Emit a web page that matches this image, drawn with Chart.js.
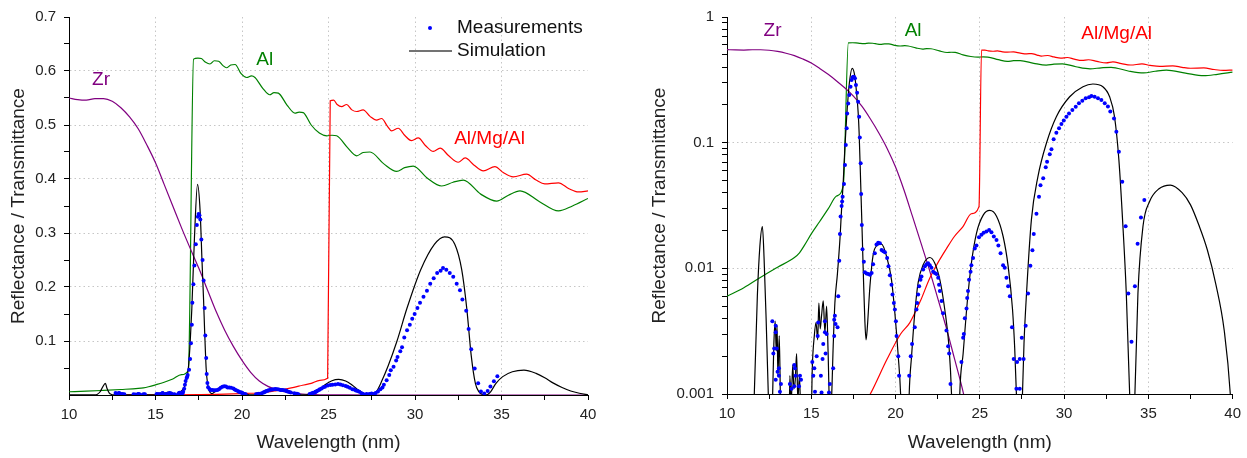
<!DOCTYPE html>
<html>
<head>
<meta charset="utf-8">
<script src="https://cdn.jsdelivr.net/npm/chart.js@4.4.1/dist/chart.umd.min.js"></script>
<style>
  html, body { margin: 0; padding: 0; background: #fff; }
  #wrap { position: relative; width: 1247px; height: 458px; }
  #wrap canvas { position: absolute; top: 0; }
</style>
</head>
<body>
<div id="wrap">
  <canvas id="linChart" width="623" height="458" style="left:0"></canvas>
  <canvas id="logChart" width="623" height="458" style="left:624px"></canvas>
</div>
<script>
/* ---- data (wavelength nm, reflectance / transmittance) ---- */

const zrData = [
  [10,0.550],[10.5,0.547],[11,0.546],[11.5,0.549],[12,0.549],[12.5,0.544],[13,0.532],[13.5,0.515],
  [14,0.493],[14.5,0.463],[15,0.43],[15.5,0.39],[16,0.35],[16.5,0.31],[17,0.272],[17.5,0.235],
  [18,0.195],[18.5,0.155],[19,0.12],[19.5,0.09],[20,0.064],[20.5,0.042],[21,0.026],[21.5,0.016],
  [22,0.0098],[22.5,0.0058],[23,0.0034],[23.5,0.0019],[24,0.00105],[24.5,0.0005],[25,0.0002],
  [26,0.00005],[28,0.00001],[40,0.00001]
];

const alData = [
  [10,0.006],[11,0.007],[12,0.0085],[13,0.0102],[14,0.0122],[14.3,0.0133],[14.6,0.0153],[15,0.0188],
  [15.5,0.0236],[16,0.0297],[16.5,0.0376],[16.9,0.046],[17.2,0.622],[17.45,0.624],[17.65,0.623],
  [17.9,0.616],[18.15,0.613],[18.4,0.619],[18.65,0.618],[18.9,0.61],[19.1,0.606],[19.35,0.611],
  [19.6,0.612],[19.95,0.595],[20.27,0.588],[20.55,0.591],[20.75,0.588],[21.2,0.568],[21.6,0.556],
  [21.85,0.56],[22.1,0.559],[22.6,0.537],[23.06,0.522],[23.3,0.524],[23.54,0.523],[24.0,0.5],
  [24.47,0.485],[24.9,0.48],[25.2,0.481],[25.47,0.48],[26.1,0.458],[26.63,0.443],[27.0,0.449],
  [27.4,0.45],[28.2,0.428],[28.94,0.414],[29.4,0.421],[29.9,0.424],[30.7,0.402],[31.54,0.387],
  [32.2,0.394],[32.79,0.398],[33.8,0.372],[34.72,0.359],[35.4,0.37],[36.07,0.378],[37.2,0.358],
  [38.29,0.341],[39.1,0.35],[40,0.364]
];

const almgalData = [
  [12.7,0.00003],[14,0.00008],[16,0.0003],[17.5,0.0006],[18.5,0.001],[19.5,0.0019],[20.3,0.003],
  [20.85,0.0037],[21.5,0.0056],[22,0.0082],[22.5,0.011],[23,0.0142],[23.5,0.018],[24,0.0215],
  [24.5,0.0272],[24.95,0.031],[25.1,0.545],[25.3,0.546],[25.5,0.538],[25.76,0.534],[26.05,0.538],
  [26.35,0.528],[26.63,0.525],[27.0,0.528],[27.4,0.516],[27.78,0.509],[28.07,0.512],[28.4,0.498],
  [28.65,0.489],[29.03,0.494],[29.4,0.481],[29.8,0.471],[30.19,0.476],[30.6,0.462],[31.06,0.451],
  [31.45,0.457],[31.95,0.443],[32.5,0.431],[32.9,0.439],[33.4,0.426],[33.95,0.415],[34.62,0.423],
  [35.1,0.412],[35.68,0.404],[36.45,0.409],[37.0,0.398],[37.5,0.391],[38.29,0.393],[38.9,0.382],
  [39.45,0.376],[40,0.378]
];

const simData = [
  [10,0.0002],[11.5,0.0002],[11.62,0.001],[11.8,0.006],[11.95,0.015],[12.1,0.0215],[12.2,0.012],
  [12.32,0.004],[12.45,0.001],[12.55,0.0003],[12.7,0.0009],[12.78,0.0025],[12.86,0.0038],
  [12.92,0.0022],[12.97,0.0035],[13.02,0.0014],[13.1,0.0029],[13.17,0.0009],[13.25,0.0003],
  [13.65,0.0003],[13.73,0.0014],[13.8,0.0008],[13.9,0.0017],[13.97,0.0011],[14.05,0.0013],
  [14.13,0.0021],[14.2,0.0009],[14.3,0.0014],[14.38,0.0006],[14.5,0.0003],[14.95,0.0003],
  [15.06,0.0016],[15.18,0.0029],[15.28,0.0037],[15.38,0.0027],[15.45,0.0053],[15.53,0.0033],
  [15.61,0.0042],[15.71,0.0055],[15.81,0.0031],[15.91,0.005],[16.0,0.0021],[16.1,0.0007],
  [16.2,0.0009],[16.3,0.0024],[16.4,0.0053],[16.55,0.009],[16.7,0.017],[16.8,0.03],[16.9,0.05],
  [17.0,0.095],[17.1,0.16],[17.25,0.29],[17.43,0.39],[17.58,0.34],[17.69,0.247],[17.78,0.175],
  [17.84,0.119],[17.93,0.048],[18.02,0.019],[18.1,0.008],[18.18,0.0038],[18.25,0.0027],
  [18.32,0.0033],[18.48,0.0072],[18.67,0.0128],[18.9,0.0152],[19.17,0.0156],[19.47,0.0124],
  [19.76,0.0081],[19.96,0.0044],[20.16,0.002],[20.3,0.001],[20.45,0.0002],[20.7,0.0002],
  [20.81,0.001],[20.95,0.002],[21.14,0.0044],[21.34,0.0077],[21.64,0.0107],[22.03,0.0122],
  [22.33,0.011],[22.63,0.0081],[22.92,0.0047],[23.18,0.0023],[23.32,0.001],[23.45,0.0002],
  [23.7,0.0002],[23.81,0.001],[24.01,0.0021],[24.25,0.0053],[24.5,0.011],[24.8,0.019],
  [25.2,0.0265],[25.59,0.0289],[25.99,0.026],[26.38,0.018],[26.68,0.0104],[26.94,0.0047],
  [27.07,0.0023],[27.17,0.001],[27.3,0.0002],[27.42,0.0002],[27.53,0.001],[27.62,0.0025],
  [27.77,0.0063],[28.06,0.0244],[28.45,0.054],[28.95,0.099],[29.54,0.161],[30.33,0.232],
  [31.12,0.279],[31.71,0.293],[32.3,0.279],[32.7,0.232],[32.99,0.161],[33.25,0.073],
  [33.49,0.0216],[33.69,0.0063],[33.89,0.001],[34.02,0.0002],[34.1,0.0002],[34.2,0.001],
  [34.38,0.0063],[34.68,0.0216],[35.07,0.034],[35.63,0.043],[36.3,0.046],[37.0,0.04],
  [37.5,0.032],[38.0,0.022],[38.5,0.014],[39.0,0.0075],[39.5,0.0032],[39.86,0.001],[40,0.0004]
];

const measData = [
  [12.69,0.0038],[12.75,0.0021],[12.80,0.0023],[12.89,0.0035],[12.89,0.0031],[12.89,0.0013],
  [12.95,0.0023],[13.00,0.0015],[13.08,0.0016],[13.08,0.0014],[13.14,0.00104],[13.20,0.0012],
  [13.73,0.0012],[13.83,0.0011],[13.99,0.0017],[13.99,0.00115],[14.03,0.0016],[14.07,0.0014],
  [14.27,0.00115],[14.33,0.0014],[14.39,0.0013],
  [15.06,0.0018],[15.12,0.0014],[15.18,0.0016],[15.22,0.00104],[15.32,0.0020],[15.38,0.0029],
  [15.41,0.0037],[15.57,0.0014],[15.61,0.00103],[15.67,0.0019],[15.71,0.0025],[15.81,0.0038],
  [15.81,0.0031],[15.85,0.0021],[15.91,0.0030],[16.05,0.00103],[16.10,0.0012],[16.30,0.0016],
  [16.36,0.0039],[16.36,0.0029],[16.40,0.0042],[16.44,0.0036],[16.56,0.0034],[16.60,0.0060],
  [16.66,0.0115],[16.70,0.0188],[16.74,0.0258],[16.80,0.0313],[16.83,0.034],[16.86,0.0372],
  [16.94,0.0469],[17.00,0.0665],[17.05,0.096],[17.10,0.130],[17.13,0.171],[17.19,0.205],
  [17.25,0.240],[17.33,0.279],[17.39,0.315],[17.45,0.330],[17.49,0.335],[17.54,0.333],
  [17.59,0.325],[17.65,0.288],[17.72,0.250],[17.78,0.212],[17.84,0.161],[17.88,0.110],
  [17.93,0.0686],[17.96,0.039],[18.00,0.0221],[18.04,0.0142],[18.12,0.0113],[18.18,0.0093],
  [18.28,0.0091],[18.38,0.0090],[18.48,0.0089],[18.58,0.0092],[18.67,0.0108],[18.77,0.0132],
  [18.87,0.0155],[18.97,0.0160],[19.07,0.0158],[19.17,0.0140],[19.27,0.0137],[19.37,0.0134],
  [19.50,0.0121],[19.58,0.0104],[19.66,0.0088],[19.76,0.0074],[19.82,0.0062],[19.90,0.0053],
  [19.96,0.0047],[20.02,0.0038],[20.06,0.0029],[20.16,0.0020],[20.21,0.0014],
  [20.81,0.0014],[20.90,0.0020],[20.98,0.0025],[21.14,0.0034],[21.24,0.0047],[21.28,0.0053],
  [21.34,0.0062],[21.40,0.0072],[21.48,0.0081],[21.54,0.0086],[21.64,0.0098],[21.74,0.0104],
  [21.84,0.0108],[21.93,0.0110],[22.03,0.0106],[22.13,0.0101],[22.23,0.0094],[22.33,0.0092],
  [22.43,0.0090],[22.53,0.0084],[22.58,0.0074],[22.63,0.0066],[22.73,0.0055],[22.82,0.0044],
  [23.02,0.0032],[23.12,0.0024],[23.18,0.0021],[23.26,0.0012],
  [23.91,0.0018],[24.01,0.0028],[24.05,0.0030],[24.11,0.0040],[24.21,0.0048],[24.25,0.0058],
  [24.30,0.0066],[24.36,0.0081],[24.45,0.0094],[24.50,0.0106],[24.60,0.0121],[24.70,0.0144],
  [24.80,0.0152],[24.95,0.0177],[25.10,0.0185],[25.23,0.0192],[25.39,0.0196],[25.55,0.0202],
  [25.69,0.0194],[25.83,0.0179],[25.99,0.0168],[26.10,0.0152],[26.23,0.0132],[26.38,0.0106],
  [26.48,0.0101],[26.58,0.0084],[26.68,0.0072],[26.78,0.0060],[26.91,0.0034],[27.01,0.0019],
  [27.17,0.0011],[27.21,0.0018],[27.37,0.0011],[27.37,0.0019],[27.49,0.0028],[27.60,0.0019],
  [27.72,0.0035],[27.86,0.0063],[28.00,0.0105],[28.12,0.0139],[28.20,0.0188],[28.36,0.0272],
  [28.51,0.0372],[28.60,0.0458],[28.76,0.0521],[28.91,0.0637],[28.99,0.0706],[29.15,0.081],
  [29.25,0.0886],[29.38,0.1065],[29.54,0.120],[29.70,0.130],[29.84,0.141],[29.98,0.150],
  [30.14,0.161],[30.29,0.171],[30.49,0.182],[30.69,0.193],[30.88,0.206],[31.08,0.216],
  [31.28,0.226],[31.48,0.230],[31.62,0.235],[31.81,0.232],[32.01,0.226],[32.21,0.219],
  [32.41,0.206],[32.60,0.194],[32.74,0.177],[32.96,0.156],[33.10,0.122],[33.25,0.0847],
  [33.45,0.0489],[33.65,0.0216],[33.81,0.0063],[34.00,0.0026],[34.20,0.0072],[34.36,0.0157],
  [34.56,0.0254],[34.76,0.0349]
];

/* ---- ticks ---- */
const xTicks   = [10,12.5,15,17.5,20,22.5,25,27.5,30,32.5,35,37.5,40];
const xLabels  = [10,15,20,25,30,35,40];
const xGrid    = [15,20,25,30,35];

const yTicksLin  = [0.05,0.1,0.15,0.2,0.25,0.3,0.35,0.4,0.45,0.5,0.55,0.6,0.65,0.7];
const yLabelsLin = [0.1,0.2,0.3,0.4,0.5,0.6,0.7];
const yGridLin   = [0.1,0.2,0.3,0.4,0.5,0.6];

const yTicksLog  = [0.001,0.002,0.003,0.004,0.005,0.006,0.007,0.008,0.009,
                    0.01,0.02,0.03,0.04,0.05,0.06,0.07,0.08,0.09,
                    0.1,0.2,0.3,0.4,0.5,0.6,0.7,0.8,0.9,1];
const yLabelsLog = [0.001,0.01,0.1,1];
const yGridLog   = [0.01,0.1];

const COLORS = { zr: '#800080', al: '#008000', almgal: '#ff0000', sim: '#000000', meas: '#0000ff' };

Chart.defaults.font.family = '"Liberation Sans", Arial, sans-serif';
Chart.defaults.color = '#222';

const toXY = arr => arr.map(([x, y]) => ({ x, y }));

function makeDatasets() {
  const line = (label, data, color, order) => ({
    label, data: toXY(data), borderColor: color, backgroundColor: color,
    borderWidth: 1.2, pointRadius: 0, tension: 0.4, cubicInterpolationMode: 'monotone', order,
  });
  return [
    { label: 'Measurements', data: toXY(measData), showLine: false, pointRadius: 2,
      pointBackgroundColor: COLORS.meas, pointBorderWidth: 0, borderColor: COLORS.meas, order: 0 },
    line('Simulation', simData, COLORS.sim, 1),
    line('Al/Mg/Al', almgalData, COLORS.almgal, 2),
    line('Zr', zrData, COLORS.zr, 3),
    line('Al', alData, COLORS.al, 4),
  ];
}

const gridColor = list => ctx =>
  (ctx.tick && list.includes(ctx.tick.value)) ? '#c6c6c6' : 'rgba(0,0,0,0)';

function xAxis(height) {
  return {
    type: 'linear', min: 10, max: 40,
    afterBuildTicks: s => { s.ticks = xTicks.map(v => ({ value: v })); },
    afterFit: s => { s.height = height; },
    ticks: { autoSkip: false, maxRotation: 0, padding: 6, color: '#222', font: { size: 15 },
             callback: v => xLabels.includes(v) ? String(v) : '' },
    grid: { color: gridColor(xGrid), tickColor: '#000', tickLength: 5, lineWidth: 1 },
    border: { display: true, color: '#000', width: 1, dash: [1.5, 3] },
    title: { display: true, text: 'Wavelength (nm)', color: '#222', font: { size: 19 },
             padding: { top: 0, bottom: 4 } },
  };
}

function yAxis(type, ticks, labels, grid, width, titlePad) {
  return {
    type, min: type === 'logarithmic' ? 0.001 : 0, max: type === 'logarithmic' ? 1 : 0.7,
    afterBuildTicks: s => { s.ticks = ticks.map(v => ({ value: v })); },
    afterFit: s => { s.width = width; },
    ticks: { autoSkip: false, padding: 8, color: '#222', font: { size: 15 },
             callback: v => labels.includes(v) ? String(v) : '' },
    grid: { color: gridColor(grid), tickColor: '#000', tickLength: 5, lineWidth: 1 },
    border: { display: true, color: '#000', width: 1, dash: [1.5, 3] },
    title: { display: true, text: 'Reflectance / Transmittance', color: '#222', font: { size: 19 },
             padding: { top: titlePad, bottom: 0 } },
  };
}

/* coloured series names written on the plot */
const seriesTags = {
  id: 'seriesTags',
  afterDatasetsDraw(chart, args, opts) {
    const { ctx, scales } = chart;
    ctx.save();
    ctx.font = '19px "Liberation Sans", Arial, sans-serif';
    ctx.textAlign = 'center';
    ctx.textBaseline = 'middle';
    (opts.items || []).forEach(t => {
      ctx.fillStyle = t.color;
      ctx.fillText(t.text, scales.x.getPixelForValue(t.x), scales.y.getPixelForValue(t.y));
    });
    ctx.restore();
  }
};

/* small key in the upper right of the linear panel */
const keyBox = {
  id: 'keyBox',
  afterDatasetsDraw(chart, args, opts) {
    if (!opts.entries) return;
    const { ctx, chartArea } = chart;
    const left = chartArea.right - 179, textX = chartArea.right - 131;
    ctx.save();
    ctx.font = '19px "Liberation Sans", Arial, sans-serif';
    ctx.textBaseline = 'middle';
    opts.entries.forEach((label, i) => {
      const ds = chart.data.datasets.find(d => d.label === label);
      const y = chartArea.top + 11 + i * 23;
      if (ds.showLine === false) {
        ctx.fillStyle = ds.pointBackgroundColor;
        ctx.beginPath();
        ctx.arc(left + 21, y, 2, 0, Math.PI * 2);
        ctx.fill();
      } else {
        ctx.strokeStyle = '#444';
        ctx.lineWidth = 1.5;
        ctx.beginPath();
        ctx.moveTo(left, y);
        ctx.lineTo(left + 43, y);
        ctx.stroke();
      }
      ctx.fillStyle = '#111';
      ctx.fillText(label, textX, y);
    });
    ctx.restore();
  }
};

function build(id, yScale, padding, xHeight, tags, key) {
  return new Chart(document.getElementById(id), {
    type: 'line',
    data: { datasets: makeDatasets() },
    options: {
      responsive: false,
      animation: false,
      events: [],
      layout: { padding },
      scales: { x: xAxis(xHeight), y: yScale },
      plugins: {
        legend: { display: false },
        tooltip: { enabled: false },
        seriesTags: { items: tags },
        keyBox: { entries: key },
      },
    },
    plugins: [seriesTags, keyBox],
  });
}

build('linChart',
  yAxis('linear', yTicksLin, yLabelsLin, yGridLin, 69, 7),
  { top: 17, right: 35, left: 0, bottom: 0 }, 63,
  [
    { text: 'Zr', x: 11.85, y: 0.583, color: COLORS.zr },
    { text: 'Al', x: 21.31, y: 0.621, color: COLORS.al },
    { text: 'Al/Mg/Al', x: 34.31, y: 0.475, color: COLORS.almgal },
  ],
  ['Measurements', 'Simulation']);

build('logChart',
  yAxis('logarithmic', yTicksLog, yLabelsLog, yGridLog, 103, 24),
  { top: 17, right: 14, left: 0, bottom: 0 }, 64,
  [
    { text: 'Zr', x: 12.70, y: 0.774, color: COLORS.zr },
    { text: 'Al', x: 21.04, y: 0.777, color: COLORS.al },
    { text: 'Al/Mg/Al', x: 33.12, y: 0.737, color: COLORS.almgal },
  ],
  null);
</script>
</body>
</html>
